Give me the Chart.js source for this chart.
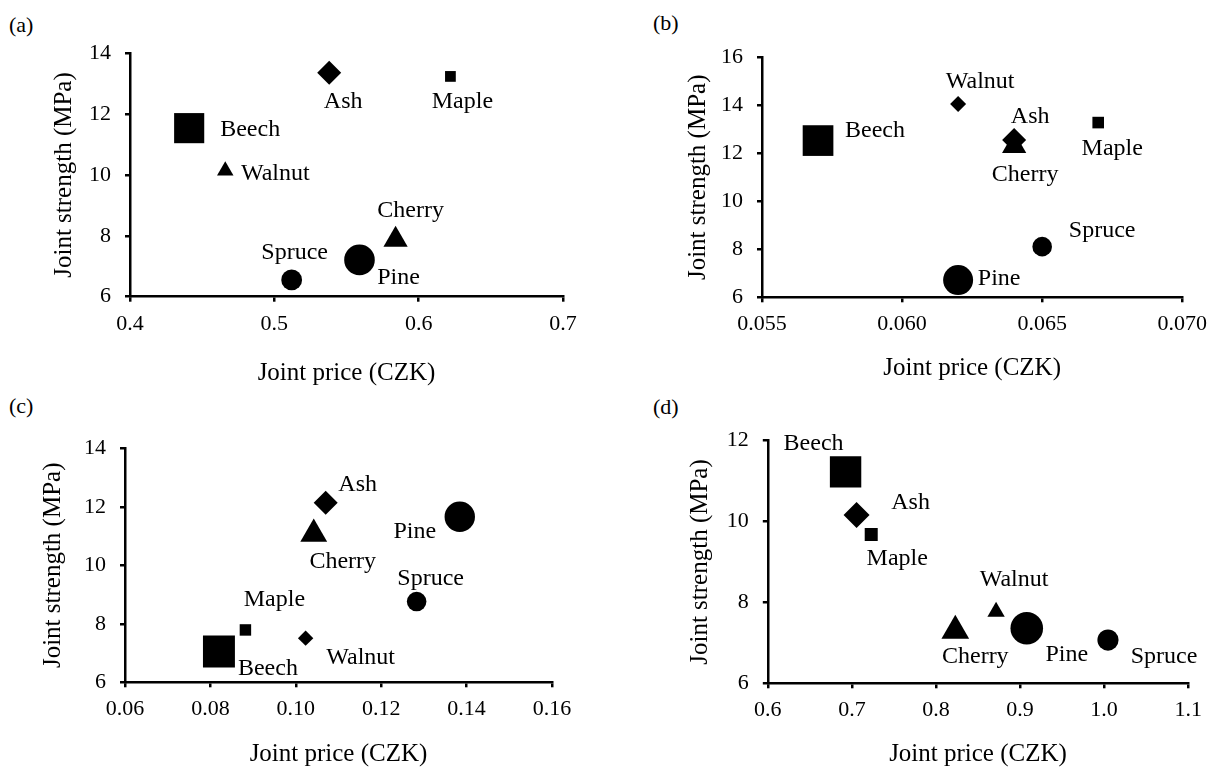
<!DOCTYPE html>
<html>
<head>
<meta charset="utf-8">
<script src="https://cdn.jsdelivr.net/npm/chart.js@4.4.1/dist/chart.umd.min.js"></script>
<style>
  html, body { margin: 0; padding: 0; background: #fff; overflow: hidden; }
  body { width: 1216px; height: 767px; position: relative; font-family: "Liberation Serif", serif; }
  canvas { position: absolute; }
  .tag { position: absolute; font-size: 22px; line-height: 22px; color: #000; }
</style>
</head>
<body>
<div class="tag" style="left:9px;top:14px">(a)</div>
<div class="tag" style="left:653px;top:12px">(b)</div>
<div class="tag" style="left:9px;top:395px">(c)</div>
<div class="tag" style="left:653px;top:396px">(d)</div>

<canvas id="chartA" width="600" height="400" style="left:0;top:0;width:600px;height:400px"></canvas>
<canvas id="chartB" width="616" height="400" style="left:600px;top:0;width:616px;height:400px"></canvas>
<canvas id="chartC" width="600" height="407" style="left:0;top:360px;width:600px;height:407px"></canvas>
<canvas id="chartD" width="616" height="407" style="left:600px;top:360px;width:616px;height:407px"></canvas>

<script>
// Datos (orden: Beech, Ash, Maple, Walnut, Cherry, Pine, Spruce)
const species = ['Beech', 'Ash', 'Maple', 'Walnut', 'Cherry', 'Pine', 'Spruce'];

const priceA = [0.441, 0.538, 0.622, 0.466, 0.584, 0.559, 0.512];
const strengthA = [11.54, 13.36, 13.24, 10.14, 7.87, 7.21, 6.55];

const priceB = [0.057, 0.064, 0.067, 0.062, 0.064, 0.062, 0.065];
const strengthB = [12.53, 12.55, 13.28, 14.05, 12.3, 6.72, 8.11];

const priceC = [0.082, 0.107, 0.0882, 0.1023, 0.1042, 0.1384, 0.1283];
const strengthC = [7.05, 12.14, 7.79, 7.51, 11.07, 11.66, 8.76];

const priceD = [0.6925, 0.7056, 0.723, 0.8715, 0.823, 0.908, 1.0046];
const strengthD = [11.23, 10.16, 9.68, 7.77, 7.30, 7.36, 7.07];

// ejes: [min, max, paso, decimales]
const xAxisA = [0.4, 0.7, 0.1, 1];
const xAxisB = [0.055, 0.070, 0.005, 3];
const xAxisC = [0.06, 0.16, 0.02, 2];
const xAxisD = [0.6, 1.1, 0.1, 1];
const yAxisA = [6, 14, 2];
const yAxisB = [6, 16, 2];
const yAxisC = [6, 14, 2];
const yAxisD = [6, 12, 2];

const xTitle = 'Joint price (CZK)';
const yTitle = 'Joint strength (MPa)';

// Marcadores
const shapesA = ['rect', 'rectRot', 'rect', 'triangle', 'triangle', 'circle', 'circle'];
const shapesB = ['rect', 'rectRot', 'rect', 'rectRot', 'triangle', 'circle', 'circle'];
const radiiA = [21.3, 12, 7.6, 9.5, 14, 15.3, 10.4];
const radiiB = [21.7, 12, 8.2, 8, 14, 15, 9.8];
const radiiC = [22.6, 12, 8.1, 7.7, 15.5, 15.2, 9.8];
const radiiD = [22.2, 13, 9.2, 10, 16, 16.3, 10.6];

// Posición de etiquetas respecto al punto [dx, dy]
const offsA = [[61, 2], [14, 29], [12, 25], [50, 3], [15, -29], [39, 18], [3, -27]];
const offsB = [[57, -10], [16, -23], [14, 26], [22, -22], [11, 29], [41, -1], [60, -16]];
const offsC = [[49, 17], [32, -18], [29, -30], [55, 20], [29, 28], [-45, 15], [14, -23]];
const offsD = [[-32, -28], [54, -12], [26, 24], [18, -32], [20, 26], [40, 26], [56, 17]];

const FONT = '"Liberation Serif", "Times New Roman", serif';

const nameLabels = {
  id: 'nameLabels',
  afterDatasetsDraw(chart, args, opts) {
    const ctx = chart.ctx;
    const meta = chart.getDatasetMeta(0);
    ctx.save();
    ctx.font = '24px ' + FONT;
    ctx.fillStyle = '#000';
    ctx.textAlign = 'center';
    ctx.textBaseline = 'middle';
    meta.data.forEach((pt, i) => {
      ctx.fillText(opts.names[i], pt.x + opts.offsets[i][0], pt.y + opts.offsets[i][1]);
    });
    ctx.restore();
  }
};

function makePanel(id, price, strength, xAxis, yAxis, shapes, radii, offsets, g) {
  const canvas = document.getElementById(id);
  const W = canvas.width, H = canvas.height;
  const half = 12.5; // mitad de la altura de línea del título
  return new Chart(canvas.getContext('2d'), {
    type: 'scatter',
    data: {
      datasets: [{
        data: price.map((x, i) => ({ x: x, y: strength[i] })),
        pointStyle: shapes,
        pointRadius: radii,
        pointHoverRadius: radii,
        backgroundColor: '#000',
        borderColor: '#000',
        pointBorderWidth: 0,
        clip: false
      }]
    },
    options: {
      responsive: false,
      animation: false,
      devicePixelRatio: 1,
      layout: {
        padding: { left: 0, top: g.top, right: W - g.right, bottom: H - g.xTitleY - half }
      },
      scales: {
        x: {
          type: 'linear',
          min: xAxis[0], max: xAxis[1],
          afterFit: s => { s.height = g.xTitleY + half - g.bottom; },
          ticks: {
            stepSize: xAxis[2],
            callback: v => Number(v).toFixed(xAxis[3]),
            color: '#000',
            font: { family: FONT, size: 22 },
            padding: 9,
            maxRotation: 0
          },
          grid: { drawOnChartArea: false, drawTicks: true, tickLength: 5, color: '#000', lineWidth: 2.5 },
          border: { display: true, color: '#000', width: 2.5 },
          title: { display: true, text: xTitle, color: '#000', font: { family: FONT, size: 25, lineHeight: 1 }, padding: 0 }
        },
        y: {
          type: 'linear',
          min: yAxis[0], max: yAxis[1],
          afterFit: s => { s.width = g.left; },
          ticks: {
            stepSize: yAxis[2],
            color: '#000',
            font: { family: FONT, size: 22 },
            padding: 14
          },
          grid: { drawOnChartArea: false, drawTicks: true, tickLength: 5, color: '#000', lineWidth: 2.5 },
          border: { display: true, color: '#000', width: 2.5 },
          title: { display: true, text: yTitle, color: '#000', font: { family: FONT, size: 25, lineHeight: 1 }, padding: { top: g.yTitleX - half, bottom: 0 } }
        }
      },
      plugins: {
        legend: { display: false },
        tooltip: { enabled: false },
        nameLabels: { names: species, offsets: offsets }
      }
    },
    plugins: [nameLabels]
  });
}

document.addEventListener('DOMContentLoaded', () => {
  makePanel('chartA', priceA, strengthA, xAxisA, yAxisA, shapesA, radiiA, offsA,
    { left: 130, right: 563, top: 53.3, bottom: 296.7, yTitleX: 64, xTitleY: 373 });
  makePanel('chartB', priceB, strengthB, xAxisB, yAxisB, shapesB, radiiB, offsB,
    { left: 162, right: 585, top: 57.3, bottom: 297.3, yTitleX: 98, xTitleY: 368 });
  makePanel('chartC', priceC, strengthC, xAxisC, yAxisC, shapesB, radiiC, offsC,
    { left: 125, right: 552, top: 88.3, bottom: 322.3, yTitleX: 53.6, xTitleY: 394.5 });
  makePanel('chartD', priceD, strengthD, xAxisD, yAxisD, shapesA, radiiD, offsD,
    { left: 167.8, right: 588.2, top: 80.7, bottom: 323.3, yTitleX: 100, xTitleY: 394.5 });
});
</script>
</body>
</html>
